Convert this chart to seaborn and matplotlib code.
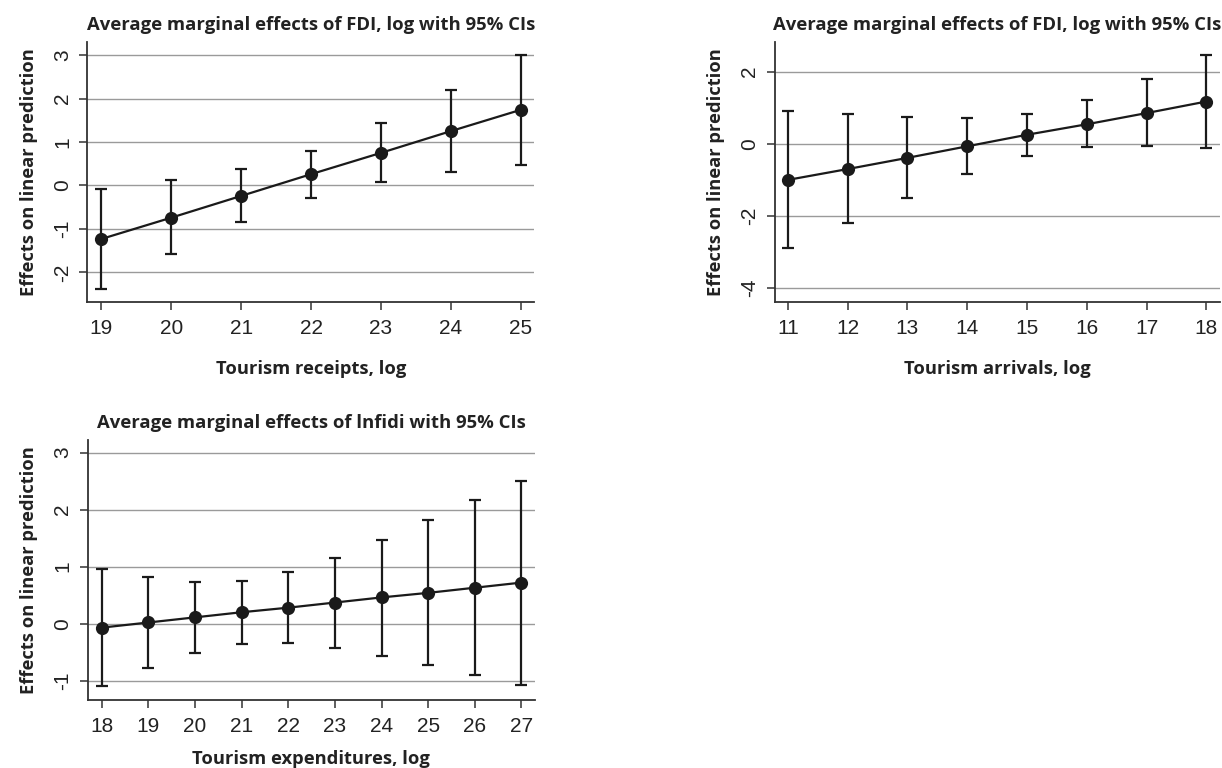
import matplotlib
matplotlib.use("Agg")
import matplotlib.pyplot as plt
import seaborn as sns
import pandas as pd

# Efectos marginales
receipts_x = [19, 20, 21, 22, 23, 24, 25]
receipts_me = [-1.23, -0.74, -0.24, 0.26, 0.75, 1.25, 1.74]
receipts_lo = [-2.37, -1.58, -0.84, -0.28, 0.08, 0.30, 0.48]
receipts_hi = [-0.07, 0.12, 0.37, 0.79, 1.43, 2.19, 3.00]

arrivals_x = [11, 12, 13, 14, 15, 16, 17, 18]
arrivals_me = [-1.00, -0.70, -0.39, -0.07, 0.25, 0.54, 0.85, 1.17]
arrivals_lo = [-2.90, -2.19, -1.50, -0.85, -0.33, -0.09, -0.07, -0.13]
arrivals_hi = [0.91, 0.82, 0.75, 0.72, 0.82, 1.20, 1.79, 2.47]

expend_x = [18, 19, 20, 21, 22, 23, 24, 25, 26, 27]
expend_me = [-0.07, 0.02, 0.11, 0.20, 0.28, 0.37, 0.46, 0.54, 0.63, 0.72]
expend_lo = [-1.09, -0.78, -0.52, -0.36, -0.34, -0.43, -0.57, -0.73, -0.90, -1.08]
expend_hi = [0.95, 0.82, 0.73, 0.75, 0.90, 1.16, 1.47, 1.81, 2.16, 2.51]

sns.set_style("white")
plt.rcParams['font.family'] = ['Liberation Sans', 'DejaVu Sans']

TITLE_FONT = dict(family=['Open Sans', 'DejaVu Sans'], weight='bold', size=13.3, color='#222222')
LABEL_FONT = dict(family=['Open Sans', 'DejaVu Sans'], weight='bold', size=13.2, color='#222222')


def panel(ax, x, me, lo, hi, title, xlabel, yticks, ylim, xlim, xpad):
    df = pd.DataFrame({'x': x, 'me': me, 'lo': lo, 'hi': hi})
    for yt in yticks:
        ax.axhline(yt, color='#9a9a9a', lw=1.0, zorder=0)
    ax.errorbar(df['x'], df['me'],
                yerr=[df['me'] - df['lo'], df['hi'] - df['me']],
                fmt='none', ecolor='#1a1a1a', elinewidth=1.6, capsize=4.5, capthick=1.6, zorder=2)
    sns.lineplot(data=df, x='x', y='me', ax=ax, color='#1a1a1a', lw=1.6,
                 marker='o', markersize=9.5, markeredgewidth=0, zorder=3)
    ax.set_xlim(*xlim)
    ax.set_ylim(*ylim)
    ax.set_xticks(x)
    ax.set_yticks(yticks)
    ax.set_xticklabels([str(v) for v in x], fontsize=15, color='#222222')
    ax.set_yticklabels([str(v) for v in yticks], fontsize=15, color='#222222',
                       rotation=90, va='center')
    ax.tick_params(axis='both', direction='out', length=6, width=1.1, color='#333333',
                   bottom=True, left=True)
    ax.tick_params(axis='x', pad=6)
    ax.tick_params(axis='y', pad=5)
    sns.despine(ax=ax)
    for s in ['left', 'bottom']:
        ax.spines[s].set_color('#333333')
        ax.spines[s].set_linewidth(1.3)
    ax.set_title(title, pad=9, **TITLE_FONT)
    ax.set_xlabel(xlabel, labelpad=xpad, **LABEL_FONT)
    ax.set_ylabel('Effects on linear prediction', labelpad=11, **LABEL_FONT)


fig = plt.figure(figsize=(12.22, 7.68), dpi=100)
ax1 = fig.add_axes([0.0716, 0.6068, 0.3654, 0.3385])
ax2 = fig.add_axes([0.634, 0.6064, 0.3644, 0.3385])
ax3 = fig.add_axes([0.0718, 0.0885, 0.366, 0.3385])

panel(ax1, receipts_x, receipts_me, receipts_lo, receipts_hi,
      'Average marginal effects of FDI, log with 95% CIs', 'Tourism receipts, log',
      [-2, -1, 0, 1, 2, 3], (-2.68, 3.3), (18.8, 25.19), 16)
panel(ax2, arrivals_x, arrivals_me, arrivals_lo, arrivals_hi,
      'Average marginal effects of FDI, log with 95% CIs', 'Tourism arrivals, log',
      [-4, -2, 0, 2], (-4.39, 2.81), (10.78, 18.23), 16)
panel(ax3, expend_x, expend_me, expend_lo, expend_hi,
      'Average marginal effects of lnfidi with 95% CIs', 'Tourism expenditures, log',
      [-1, 0, 1, 2, 3], (-1.34, 3.22), (17.7, 27.29), 10)

fig.savefig('out.png', dpi=100)
